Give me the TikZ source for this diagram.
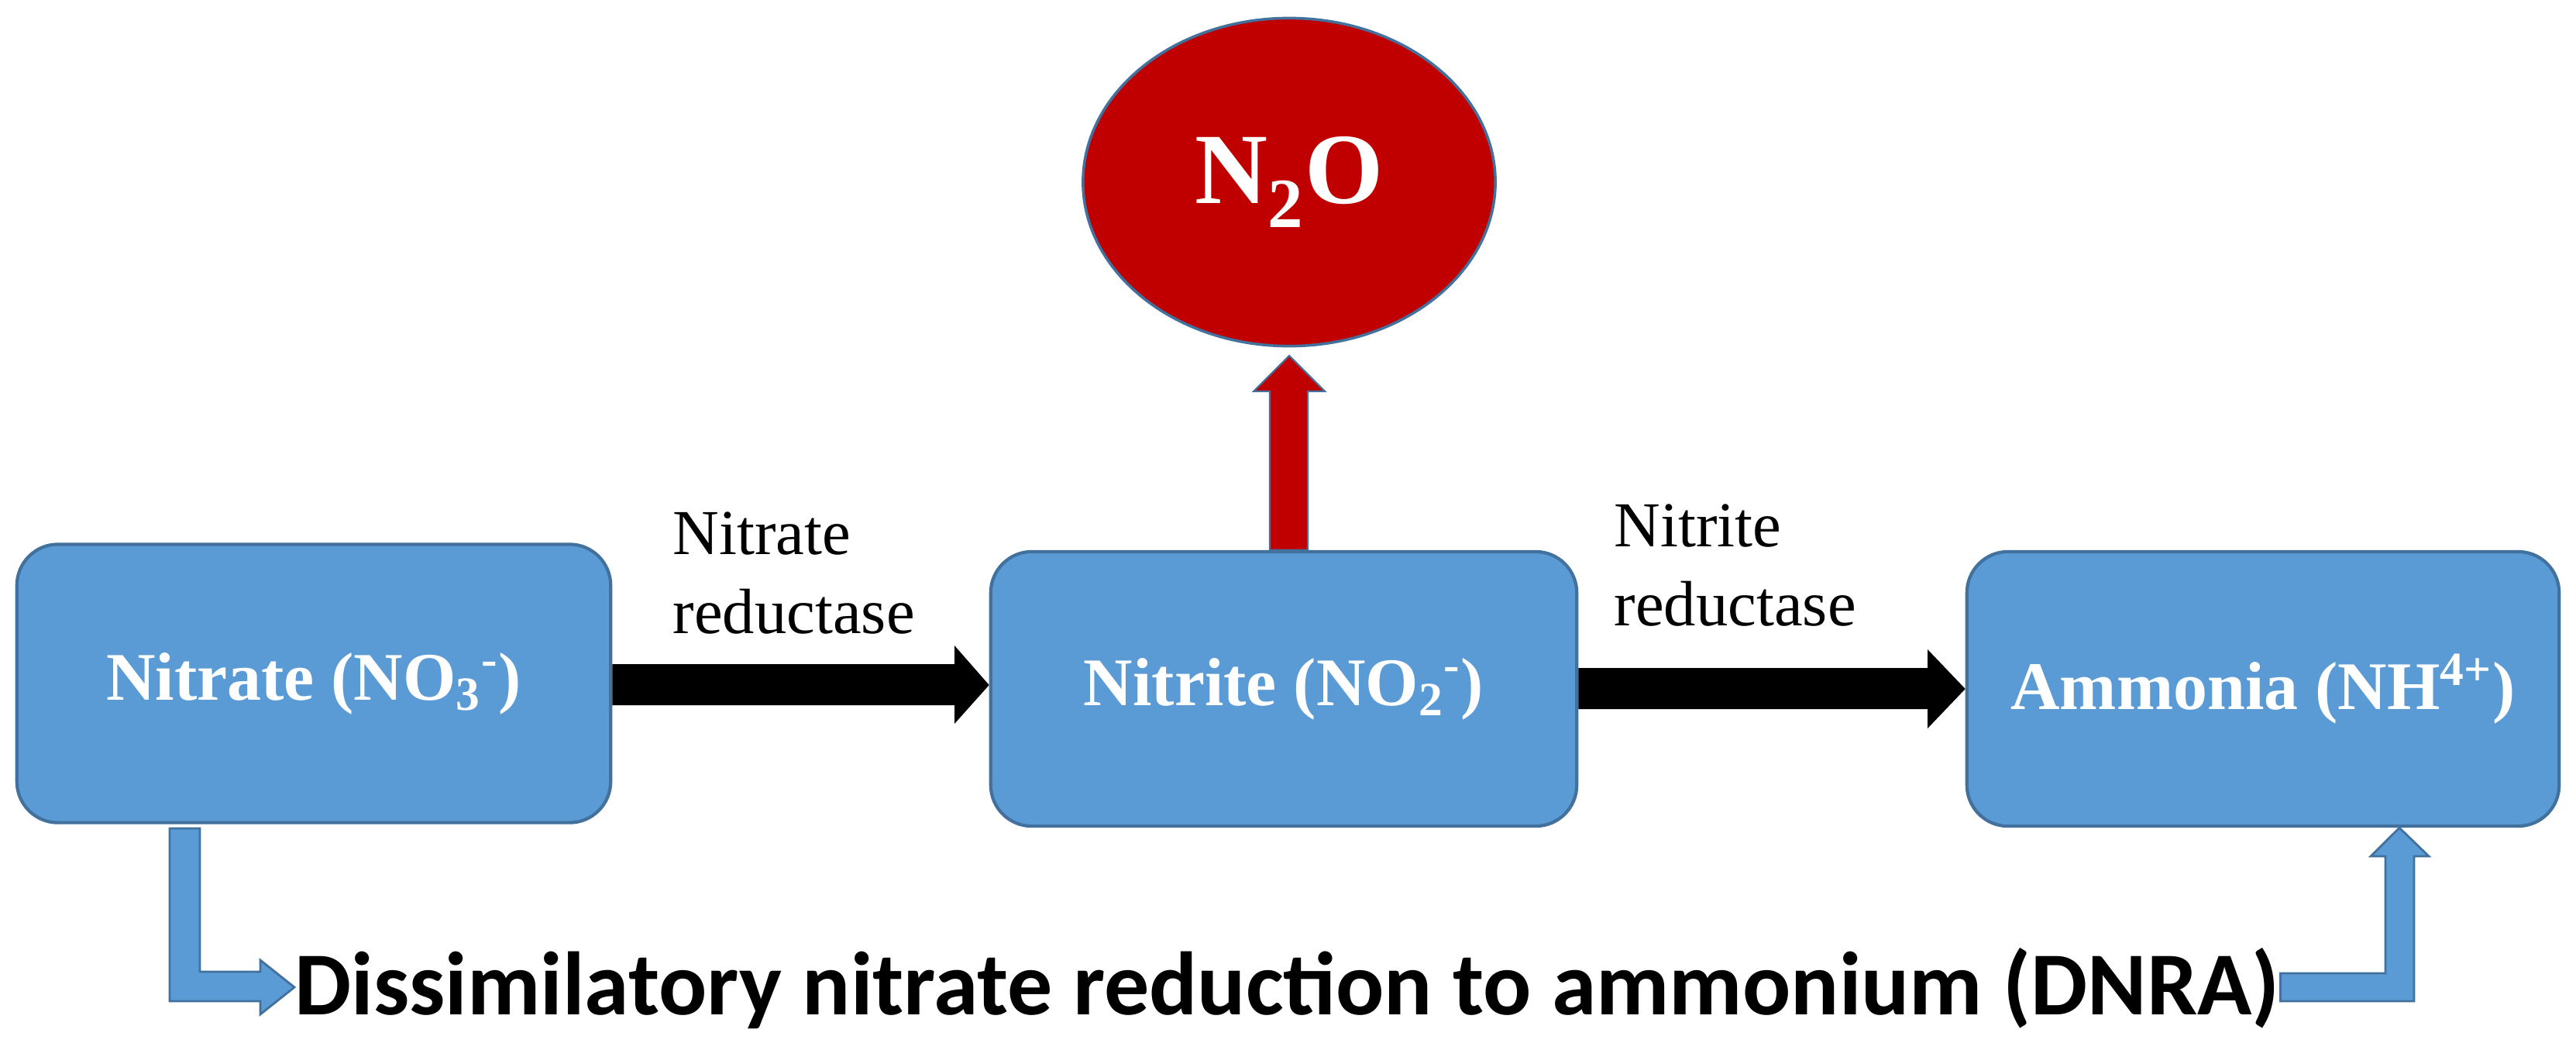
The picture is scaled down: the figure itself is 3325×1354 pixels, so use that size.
\documentclass[tikz,border=0pt]{standalone}
\usepackage{fontspec}
\setmainfont{Liberation Serif}
\newfontfamily\calib{Carlito}
\usetikzlibrary{shapes.geometric,calc}
\definecolor{boxblue}{HTML}{5B9BD5}
\definecolor{boxedge}{HTML}{41719C}
\definecolor{dred}{HTML}{C00000}
\begin{document}
\begin{tikzpicture}[x=0.01cm,y=-0.01cm,
  stage/.style={draw=boxedge,line width=1.2pt,fill=boxblue,rounded corners=0.53cm,text=white,font=\bfseries\fontsize{25}{30}\selectfont},
  lbl/.style={font=\fontsize{23.5}{29}\selectfont,align=left,anchor=north west,inner sep=0pt},
  fatblack/.style={fill=black},
  fatblue/.style={fill=boxblue,draw=boxedge,line width=0.8pt}]
\useasboundingbox (0,0) rectangle (3325,1354);
\node[stage,minimum width=7.66cm,minimum height=3.59cm] (nitrate) at (405,882) {Nitrate (NO\textsubscript{3}\textsuperscript{-})};
\node[stage,minimum width=7.56cm,minimum height=3.54cm] (nitrite) at (1657,889) {Nitrite (NO\textsubscript{2}\textsuperscript{-})};
\node[stage,minimum width=7.64cm,minimum height=3.54cm] (ammonia) at (2921,889) {Ammonia (NH\textsuperscript{4+})};
\node[ellipse,draw=boxedge,line width=1pt,fill=dred,minimum width=5.32cm,minimum height=4.23cm,text=white,font=\bfseries\fontsize{37}{44}\selectfont] (n2o) at (1664,235) {N\textsubscript{2}O};
% black arrows
\fill[fatblack] (nitrate.east|-0,857) -- (1232,857) -- (1232,833) -- (nitrite.west|-0,884) -- (1232,934) -- (1232,910) -- (nitrate.east|-0,910) -- cycle;
\fill[fatblack] (nitrite.east|-0,862) -- (2488,862) -- (2488,838) -- (ammonia.west|-0,889) -- (2488,940) -- (2488,915) -- (nitrite.east|-0,915) -- cycle;
% red arrow
\filldraw[fill=dred,draw=boxedge,line width=0.6pt] (1639,0|-nitrite.north) -- (1639,505) -- (1618,505) -- (1664,459) -- (1710,505) -- (1688,505) -- (1688,0|-nitrite.north) -- cycle;
% labels
\node[lbl] (lab1) at (868,660) {Nitrate\\reductase};
\node[lbl] (lab2) at (2083,650) {Nitrite\\reductase};
% DNRA text
\node[anchor=base west,inner sep=0pt,font=\calib\bfseries\fontsize{33}{40}\selectfont] (dnra) at (380,1309) {Dissimilatory nitrate reduction to ammonium (DNRA)};
% blue elbow arrows
\filldraw[fatblue] (219,1069) -- (258,1069) -- (258,1254) -- (336,1254) -- (336,1239) -- (dnra.west|-0,1274) -- (336,1309) -- (336,1292) -- (219,1292) -- cycle;
\filldraw[fatblue] (dnra.east|-0,1256) -- (3079,1256) -- (3079,1105) -- (3060,1105) -- (3097,0|-ammonia.south) -- (3135,1105) -- (3116,1105) -- (3116,1292) -- (dnra.east|-0,1292) -- cycle;
\end{tikzpicture}
\end{document}
